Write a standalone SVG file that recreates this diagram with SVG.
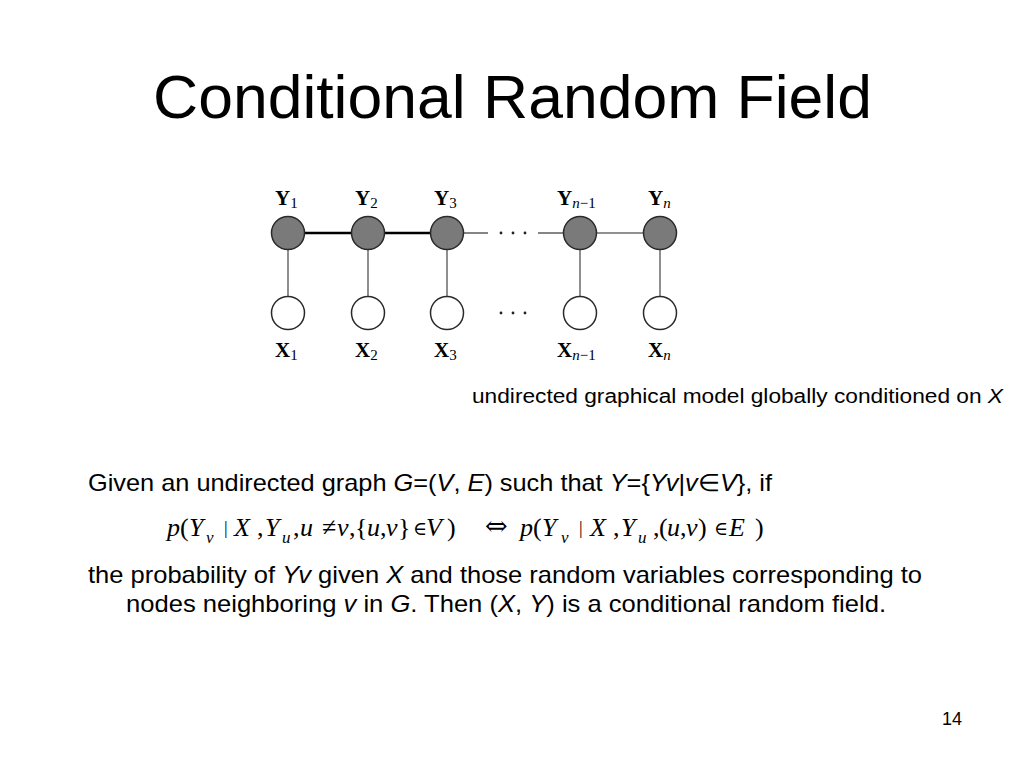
<svg xmlns="http://www.w3.org/2000/svg" width="1024" height="768" viewBox="0 0 1024 768">
<style>
.sans{font-family:"Liberation Sans",Arial,sans-serif;fill:#000}
.title{font-size:62px}
.body{font-size:24px}
.cap{font-size:20px}
.it{font-style:italic}
.m{font-family:"Liberation Serif","Times New Roman",serif;font-size:26px;fill:#000}
.mi{font-style:italic}
.ms{font-size:17px;font-style:italic}
.bar{font-size:18px}
.el{font-family:"DejaVu Serif",serif;font-size:19px}
.iff{font-family:"DejaVu Serif",serif;font-size:27px}
.lab{font-family:"Liberation Serif","Times New Roman",serif;font-size:21px;font-weight:bold;fill:#000}
.lsub{font-size:15px;font-weight:normal}
.ynode{fill:#7a7a7a;stroke:#2a2a2a;stroke-width:1.5}
.xnode{fill:#fff;stroke:#2a2a2a;stroke-width:1.5}
.thick{stroke:#000;stroke-width:2.6}
.thin{stroke:#222;stroke-width:1.1}
.vert{stroke:#444;stroke-width:1.2}
</style>
<rect width="1024" height="768" fill="#fff"/>
<text class="sans title" x="153" y="118" textLength="719" lengthAdjust="spacingAndGlyphs">Conditional Random Field</text>

<g id="connectors">
<line class="thick" x1="304" y1="233" x2="351" y2="233"/>
<line class="thick" x1="384" y1="233" x2="430" y2="233"/>
<line class="thin" x1="464" y1="233" x2="488" y2="233"/>
<line class="thin" x1="538" y1="233" x2="563" y2="233"/>
<line class="thin" x1="597" y1="233" x2="643" y2="233"/>
<line class="vert" x1="288" y1="250" x2="288" y2="296"/>
<line class="vert" x1="368" y1="250" x2="368" y2="296"/>
<line class="vert" x1="447" y1="250" x2="447" y2="296"/>
<line class="vert" x1="580" y1="250" x2="580" y2="296"/>
<line class="vert" x1="660" y1="250" x2="660" y2="296"/>
</g>
<g id="dots" fill="#222">
<circle cx="501" cy="233" r="1.4"/><circle cx="513" cy="233" r="1.4"/><circle cx="525" cy="233" r="1.4"/>
<circle cx="501" cy="313" r="1.4"/><circle cx="513" cy="313" r="1.4"/><circle cx="525" cy="313" r="1.4"/>
</g>

<g id="Y1"><circle class="ynode" cx="288" cy="233" r="16.5"/><text class="lab" x="275" y="205">Y<tspan class="lsub" dy="3">1</tspan></text></g>
<g id="Y2"><circle class="ynode" cx="368" cy="233" r="16.5"/><text class="lab" x="355" y="205">Y<tspan class="lsub" dy="3">2</tspan></text></g>
<g id="Y3"><circle class="ynode" cx="447" cy="233" r="16.5"/><text class="lab" x="434" y="205">Y<tspan class="lsub" dy="3">3</tspan></text></g>
<g id="Yn-1"><circle class="ynode" cx="580" cy="233" r="16.5"/><text class="lab" x="557" y="205">Y<tspan class="lsub" dy="3"><tspan font-style="italic">n</tspan>−1</tspan></text></g>
<g id="Yn"><circle class="ynode" cx="660" cy="233" r="16.5"/><text class="lab" x="648" y="205">Y<tspan class="lsub" dy="3" font-style="italic">n</tspan></text></g>

<g id="X1"><circle class="xnode" cx="288" cy="313" r="16.5"/><text class="lab" x="275" y="357">X<tspan class="lsub" dy="3">1</tspan></text></g>
<g id="X2"><circle class="xnode" cx="368" cy="313" r="16.5"/><text class="lab" x="355" y="357">X<tspan class="lsub" dy="3">2</tspan></text></g>
<g id="X3"><circle class="xnode" cx="447" cy="313" r="16.5"/><text class="lab" x="434" y="357">X<tspan class="lsub" dy="3">3</tspan></text></g>
<g id="Xn-1"><circle class="xnode" cx="580" cy="313" r="16.5"/><text class="lab" x="557" y="357">X<tspan class="lsub" dy="3"><tspan font-style="italic">n</tspan>−1</tspan></text></g>
<g id="Xn"><circle class="xnode" cx="660" cy="313" r="16.5"/><text class="lab" x="648" y="357">X<tspan class="lsub" dy="3" font-style="italic">n</tspan></text></g>

<text class="sans cap" x="472" y="403" textLength="531" lengthAdjust="spacingAndGlyphs">undirected graphical model globally conditioned on <tspan class="it">X</tspan></text>

<text class="sans body" x="88" y="491" textLength="684" lengthAdjust="spacingAndGlyphs">Given an undirected graph <tspan class="it">G</tspan>=(<tspan class="it">V</tspan>, <tspan class="it">E</tspan>) such that <tspan class="it">Y</tspan>={<tspan class="it">Yv</tspan>|<tspan class="it">v</tspan>∈<tspan class="it">V</tspan>}, if</text>

<text class="m" y="536">
<tspan class="mi" x="167">p</tspan><tspan x="180">(</tspan><tspan class="mi" x="189">Y</tspan><tspan class="ms" x="206" y="543">v</tspan><tspan class="bar" x="224" y="534">|</tspan><tspan class="mi" x="234" y="536">X</tspan><tspan x="257">,</tspan><tspan class="mi" x="265">Y</tspan><tspan class="ms" x="282" y="543">u</tspan><tspan x="293" y="536">,</tspan><tspan class="mi" x="300">u</tspan><tspan x="322">≠</tspan><tspan class="mi" x="337">v</tspan><tspan x="349">,</tspan><tspan x="355">{</tspan><tspan class="mi" x="367">u</tspan><tspan x="380">,</tspan><tspan class="mi" x="386">v</tspan><tspan x="398">}</tspan><tspan class="el" x="413" y="535">∈</tspan><tspan class="mi" x="426" y="536">V</tspan><tspan x="447">)</tspan><tspan class="iff" x="485" y="535">⇔</tspan><tspan class="mi" x="520" y="536">p</tspan><tspan x="533">(</tspan><tspan class="mi" x="542">Y</tspan><tspan class="ms" x="561" y="543">v</tspan><tspan class="bar" x="579" y="534">|</tspan><tspan class="mi" x="590" y="536">X</tspan><tspan x="613">,</tspan><tspan class="mi" x="621">Y</tspan><tspan class="ms" x="638" y="543">u</tspan><tspan x="653" y="536">,</tspan><tspan x="659">(</tspan><tspan class="mi" x="667">u</tspan><tspan x="680">,</tspan><tspan class="mi" x="686">v</tspan><tspan x="698">)</tspan><tspan class="el" x="714" y="535">∈</tspan><tspan class="mi" x="729" y="536">E</tspan><tspan x="755">)</tspan>
</text>

<text class="sans body" x="88" y="583" textLength="834" lengthAdjust="spacingAndGlyphs">the probability of <tspan class="it">Yv</tspan> given <tspan class="it">X</tspan> and those random variables corresponding to</text>
<text class="sans body" x="126" y="612" textLength="760" lengthAdjust="spacingAndGlyphs">nodes neighboring <tspan class="it">v</tspan> in <tspan class="it">G</tspan>. Then (<tspan class="it">X</tspan>, <tspan class="it">Y</tspan>) is a conditional random field.</text>

<text class="sans" x="942" y="725" font-size="18">14</text>
</svg>
